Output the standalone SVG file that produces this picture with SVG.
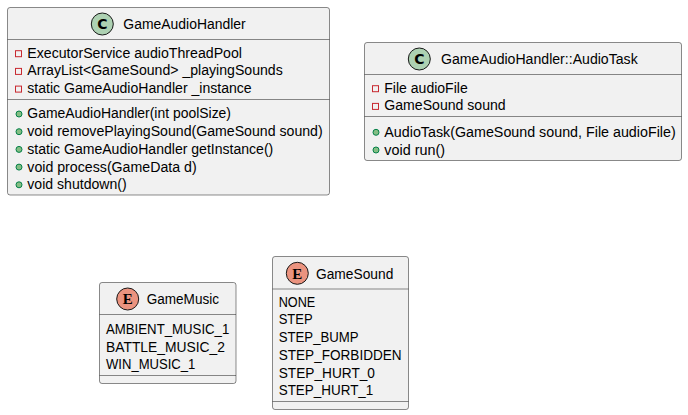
<svg xmlns="http://www.w3.org/2000/svg" width="688" height="415" viewBox="0 0 688 415">
<style>
.box{fill:#F1F1F1;stroke:#181818;stroke-width:0.5}
.sep{stroke:#181818;stroke-width:0.5}
.t{font-family:"Liberation Sans",Arial,sans-serif;font-size:14px;fill:#000}
.cc{fill:#ADD1B2;stroke:#181818;stroke-width:1}
.ce{fill:#EB937F;stroke:#181818;stroke-width:1}
.cl{font-family:"DejaVu Sans",sans-serif;font-weight:bold;font-size:14px;fill:#000;text-anchor:middle}
.el{font-family:"Liberation Serif",serif;font-weight:bold;font-size:15px;fill:#000;text-anchor:middle}
.priv{fill:none;stroke:#C82930;stroke-width:1}
.pub{fill:#84BE84;stroke:#038048;stroke-width:1}
</style>
<g id="connectors"></g>
<g id="GameAudioHandler">
<rect class="box" x="7.5" y="7.5" width="322" height="187.5" rx="2.5"/>
<circle class="cc" cx="102.3" cy="24" r="11"/>
<text class="cl" x="102.3" y="29">C</text>
<text class="t" x="123.3" y="29.3" textLength="122.4" lengthAdjust="spacingAndGlyphs">GameAudioHandler</text>
<line class="sep" x1="7.5" y1="39.5" x2="329.5" y2="39.5"/>
<rect class="priv" x="15.5" y="50.7" width="6" height="6"/>
<rect class="priv" x="15.5" y="68.4" width="6" height="6"/>
<rect class="priv" x="15.5" y="86.1" width="6" height="6"/>
<text class="t" x="27.3" y="57.6" textLength="214.7" lengthAdjust="spacingAndGlyphs">ExecutorService audioThreadPool</text>
<text class="t" x="27.3" y="75.3" textLength="255.4" lengthAdjust="spacingAndGlyphs">ArrayList&lt;GameSound&gt; _playingSounds</text>
<text class="t" x="27.3" y="93" textLength="224.4" lengthAdjust="spacingAndGlyphs">static GameAudioHandler _instance</text>
<line class="sep" x1="7.5" y1="99.5" x2="329.5" y2="99.5"/>
<circle class="pub" cx="19" cy="114" r="3"/>
<circle class="pub" cx="19" cy="131.7" r="3"/>
<circle class="pub" cx="19" cy="149.4" r="3"/>
<circle class="pub" cx="19" cy="167.1" r="3"/>
<circle class="pub" cx="19" cy="184.8" r="3"/>
<text class="t" x="27.3" y="118.4" textLength="203.7" lengthAdjust="spacingAndGlyphs">GameAudioHandler(int poolSize)</text>
<text class="t" x="27.3" y="136.1" textLength="295.4" lengthAdjust="spacingAndGlyphs">void removePlayingSound(GameSound sound)</text>
<text class="t" x="27.3" y="153.8" textLength="246" lengthAdjust="spacingAndGlyphs">static GameAudioHandler getInstance()</text>
<text class="t" x="27.3" y="171.5" textLength="169.4" lengthAdjust="spacingAndGlyphs">void process(GameData d)</text>
<text class="t" x="27.3" y="189.2" textLength="99.4" lengthAdjust="spacingAndGlyphs">void shutdown()</text>
</g>
<g id="AudioTask">
<rect class="box" x="364.5" y="42.5" width="317" height="118" rx="2.5"/>
<circle class="cc" cx="419.3" cy="59" r="11"/>
<text class="cl" x="419.3" y="64">C</text>
<text class="t" x="441" y="64.3" textLength="196.7" lengthAdjust="spacingAndGlyphs">GameAudioHandler::AudioTask</text>
<line class="sep" x1="364.5" y1="74.5" x2="681.5" y2="74.5"/>
<rect class="priv" x="372.5" y="85.7" width="6" height="6"/>
<rect class="priv" x="372.5" y="103.4" width="6" height="6"/>
<text class="t" x="384.3" y="92.7" textLength="83.4" lengthAdjust="spacingAndGlyphs">File audioFile</text>
<text class="t" x="384.3" y="110.4" textLength="121.4" lengthAdjust="spacingAndGlyphs">GameSound sound</text>
<line class="sep" x1="364.5" y1="116.5" x2="681.5" y2="116.5"/>
<circle class="pub" cx="376" cy="132.3" r="3"/>
<circle class="pub" cx="376" cy="150" r="3"/>
<text class="t" x="384.3" y="137.3" textLength="291.4" lengthAdjust="spacingAndGlyphs">AudioTask(GameSound sound, File audioFile)</text>
<text class="t" x="384.3" y="155" textLength="60.7" lengthAdjust="spacingAndGlyphs">void run()</text>
</g>
<g id="GameMusic">
<rect class="box" x="99.5" y="282.5" width="136.5" height="101" rx="2.5"/>
<circle class="ce" cx="127.7" cy="299" r="11"/>
<text class="el" x="127.7" y="304.3">E</text>
<text class="t" x="146.7" y="304.3" textLength="72.3" lengthAdjust="spacingAndGlyphs">GameMusic</text>
<line class="sep" x1="99.5" y1="314.5" x2="236" y2="314.5"/>
<text class="t" x="106" y="334" textLength="123.3" lengthAdjust="spacingAndGlyphs">AMBIENT_MUSIC_1</text>
<text class="t" x="106" y="351.7" textLength="119" lengthAdjust="spacingAndGlyphs">BATTLE_MUSIC_2</text>
<text class="t" x="106" y="369.4" textLength="89.3" lengthAdjust="spacingAndGlyphs">WIN_MUSIC_1</text>
<line class="sep" x1="99.5" y1="375.5" x2="236" y2="375.5"/>
</g>
<g id="GameSound">
<rect class="box" x="272.5" y="256.5" width="136" height="153" rx="2.5"/>
<circle class="ce" cx="297.3" cy="273.3" r="11"/>
<text class="el" x="297.3" y="278.6">E</text>
<text class="t" x="316" y="278.6" textLength="77.3" lengthAdjust="spacingAndGlyphs">GameSound</text>
<line class="sep" x1="272.5" y1="289" x2="408.5" y2="289"/>
<text class="t" x="278.7" y="306.7" textLength="36.6" lengthAdjust="spacingAndGlyphs">NONE</text>
<text class="t" x="278.7" y="324.4" textLength="34" lengthAdjust="spacingAndGlyphs">STEP</text>
<text class="t" x="278.7" y="342.1" textLength="80" lengthAdjust="spacingAndGlyphs">STEP_BUMP</text>
<text class="t" x="278.7" y="359.8" textLength="123" lengthAdjust="spacingAndGlyphs">STEP_FORBIDDEN</text>
<text class="t" x="278.7" y="377.5" textLength="96.3" lengthAdjust="spacingAndGlyphs">STEP_HURT_0</text>
<text class="t" x="278.7" y="395.2" textLength="94.6" lengthAdjust="spacingAndGlyphs">STEP_HURT_1</text>
<line class="sep" x1="272.5" y1="401.5" x2="408.5" y2="401.5"/>
</g>
</svg>
